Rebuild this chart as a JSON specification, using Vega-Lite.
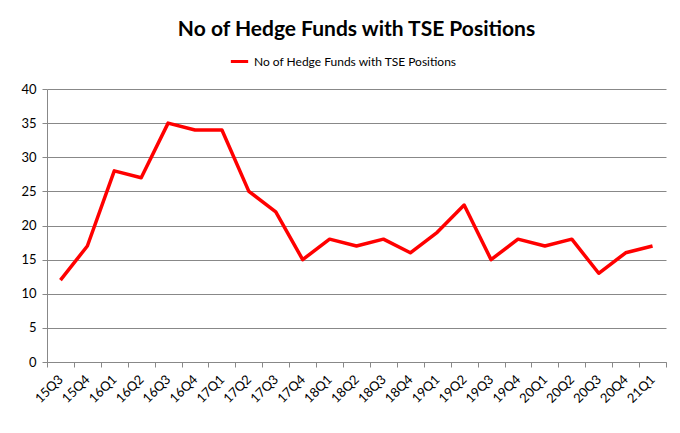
{
  "$schema": "https://vega.github.io/schema/vega-lite/v6.json",
  "autosize": {"type": "fit", "contains": "padding"},
  "width": 680,
  "height": 433,
  "padding": {"left": 20, "right": 13, "top": 19, "bottom": 27},
  "background": "white",
  "title": {
    "text": "No of Hedge Funds with TSE Positions",
    "font": "Lato",
    "fontSize": 21,
    "fontWeight": "bold",
    "color": "#000000",
    "anchor": "middle",
    "offset": 43
  },
  "data": {
    "values": [
      {"q": "15Q3", "v": 12, "s": "No of Hedge Funds with TSE Positions"},
      {"q": "15Q4", "v": 17, "s": "No of Hedge Funds with TSE Positions"},
      {"q": "16Q1", "v": 28, "s": "No of Hedge Funds with TSE Positions"},
      {"q": "16Q2", "v": 27, "s": "No of Hedge Funds with TSE Positions"},
      {"q": "16Q3", "v": 35, "s": "No of Hedge Funds with TSE Positions"},
      {"q": "16Q4", "v": 34, "s": "No of Hedge Funds with TSE Positions"},
      {"q": "17Q1", "v": 34, "s": "No of Hedge Funds with TSE Positions"},
      {"q": "17Q2", "v": 25, "s": "No of Hedge Funds with TSE Positions"},
      {"q": "17Q3", "v": 22, "s": "No of Hedge Funds with TSE Positions"},
      {"q": "17Q4", "v": 15, "s": "No of Hedge Funds with TSE Positions"},
      {"q": "18Q1", "v": 18, "s": "No of Hedge Funds with TSE Positions"},
      {"q": "18Q2", "v": 17, "s": "No of Hedge Funds with TSE Positions"},
      {"q": "18Q3", "v": 18, "s": "No of Hedge Funds with TSE Positions"},
      {"q": "18Q4", "v": 16, "s": "No of Hedge Funds with TSE Positions"},
      {"q": "19Q1", "v": 19, "s": "No of Hedge Funds with TSE Positions"},
      {"q": "19Q2", "v": 23, "s": "No of Hedge Funds with TSE Positions"},
      {"q": "19Q3", "v": 15, "s": "No of Hedge Funds with TSE Positions"},
      {"q": "19Q4", "v": 18, "s": "No of Hedge Funds with TSE Positions"},
      {"q": "20Q1", "v": 17, "s": "No of Hedge Funds with TSE Positions"},
      {"q": "20Q2", "v": 18, "s": "No of Hedge Funds with TSE Positions"},
      {"q": "20Q3", "v": 13, "s": "No of Hedge Funds with TSE Positions"},
      {"q": "20Q4", "v": 16, "s": "No of Hedge Funds with TSE Positions"},
      {"q": "21Q1", "v": 17, "s": "No of Hedge Funds with TSE Positions"}
    ]
  },
  "mark": {"type": "line", "strokeWidth": 3.5, "strokeJoin": "round"},
  "encoding": {
    "x": {
      "field": "q",
      "type": "ordinal",
      "sort": null,
      "scale": {"type": "band", "paddingInner": 0, "paddingOuter": 0},
      "axis": {
        "title": null,
        "labelAngle": -45,
        "labelAlign": "right",
        "labelBaseline": "middle",
        "labelFont": "Lato",
        "labelFontSize": 13,
        "labelColor": "#000000",
        "labelPadding": 10,
        "domainColor": "#888888",
        "tickColor": "#888888",
        "tickBand": "extent",
        "tickSize": 5,
        "grid": false
      }
    },
    "y": {
      "field": "v",
      "type": "quantitative",
      "scale": {"domain": [0, 40]},
      "axis": {
        "title": null,
        "values": [0, 5, 10, 15, 20, 25, 30, 35, 40],
        "labelFont": "Lato",
        "labelFontSize": 13,
        "labelColor": "#000000",
        "labelPadding": 6,
        "domainColor": "#888888",
        "tickColor": "#888888",
        "tickSize": 5,
        "gridColor": "#888888",
        "gridWidth": 1
      }
    },
    "color": {
      "field": "s",
      "type": "nominal",
      "scale": {"range": ["#ff0000"]},
      "legend": {
        "title": null,
        "orient": "none",
        "legendX": 180,
        "legendY": -40,
        "direction": "horizontal",
        "symbolType": "stroke",
        "symbolStrokeWidth": 3,
        "symbolSize": 300,
        "labelFont": "Lato",
        "labelFontSize": 12,
        "labelLimit": 400,
        "labelColor": "#000000",
        "padding": 2
      }
    }
  },
  "config": {"view": {"stroke": null}}
}
